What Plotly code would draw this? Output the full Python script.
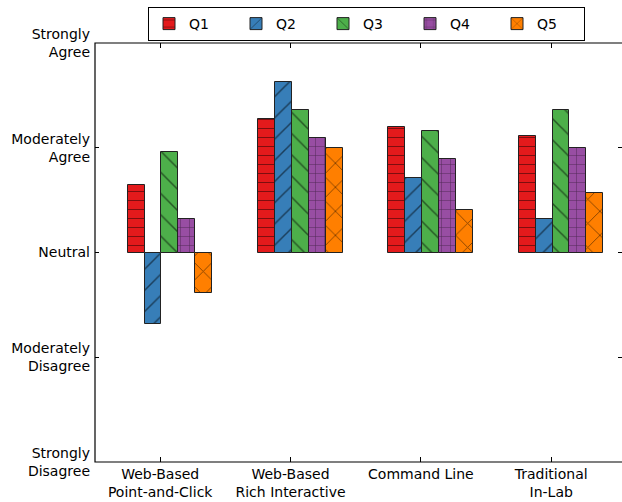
import plotly.graph_objects as go

# Survey groups and mean Likert responses (-2 = Strongly Disagree ... 2 = Strongly Agree)
groups = ["Web-Based<br>Point-and-Click", "Web-Based<br>Rich Interactive",
          "Command Line", "Traditional<br>In-Lab"]
questions = ["Q1", "Q2", "Q3", "Q4", "Q5"]
q1 = [0.64, 1.27, 1.20, 1.11]
q2 = [-0.68, 1.63, 0.71, 0.32]
q3 = [0.96, 1.36, 1.16, 1.36]
q4 = [0.32, 1.09, 0.89, 1.00]
q5 = [-0.39, 1.00, 0.41, 0.57]
likert_vals = [-2, -1, 0, 1, 2]
likert_labels = ["Strongly<br>Disagree", "Moderately<br>Disagree", "Neutral",
                 "Moderately<br>Agree", "Strongly<br>Agree"]

series = [q1, q2, q3, q4, q5]
colors = ["#e41a1c", "#377eb8", "#4daf4a", "#984ea3", "#ff7f00"]
hatches = ["-", "/", "\\", "+", "x"]
hatch_sizes = [9, 15, 15, 9, 17]

bar_w = 0.13
font = dict(family="DejaVu Sans", size=14, color="#000000")

fig = go.Figure()
for j, (name, vals) in enumerate(zip(questions, series)):
    xs = [i - 0.25 + bar_w / 2 + j * bar_w for i in range(len(groups))]
    fig.add_trace(go.Bar(
        x=xs, y=vals, base=0, width=bar_w, name=name,
        marker=dict(color=colors[j],
                    line=dict(color="#222222", width=1),
                    pattern=dict(shape=hatches[j], size=hatch_sizes[j],
                                 fgcolor="#000000", solidity=0.1,
                                 fillmode="overlay")),
    ))

fig.update_layout(
    width=622, height=502,
    margin=dict(l=95, r=0, t=43, b=40),
    plot_bgcolor="white", paper_bgcolor="white",
    font=font,
    bargap=0,
    barmode="overlay",
    showlegend=True,
    legend=dict(orientation="h", x=(148 - 95) / 527, xanchor="left",
                y=1 + 36 / 419, yanchor="top",
                bordercolor="#000000", borderwidth=1,
                entrywidth=42, entrywidthmode="pixels",
                font=font, bgcolor="white"),
    xaxis=dict(range=[-0.5, 3.543], tickmode="array",
               tickvals=list(range(len(groups))), ticktext=groups,
               ticks="inside", ticklen=5, tickcolor="#000000",
               mirror="ticks", showline=False, showgrid=False,
               zeroline=False, tickfont=font, ticklabelstandoff=2),
    yaxis=dict(range=[-2, 2], tickmode="array", tickvals=likert_vals,
               ticktext=likert_labels, ticks="inside", ticklen=4,
               tickcolor="#000000", mirror="ticks", showline=False,
               showgrid=False, zeroline=False, tickfont=font,
               ticklabelstandoff=4),
    shapes=[dict(type="rect", xref="paper", yref="paper",
                 x0=0, x1=1.02, y0=0, y1=1,
                 line=dict(color="#000000", width=1.2),
                 fillcolor="rgba(0,0,0,0)", layer="above")],
)

fig.write_html("out.html")
